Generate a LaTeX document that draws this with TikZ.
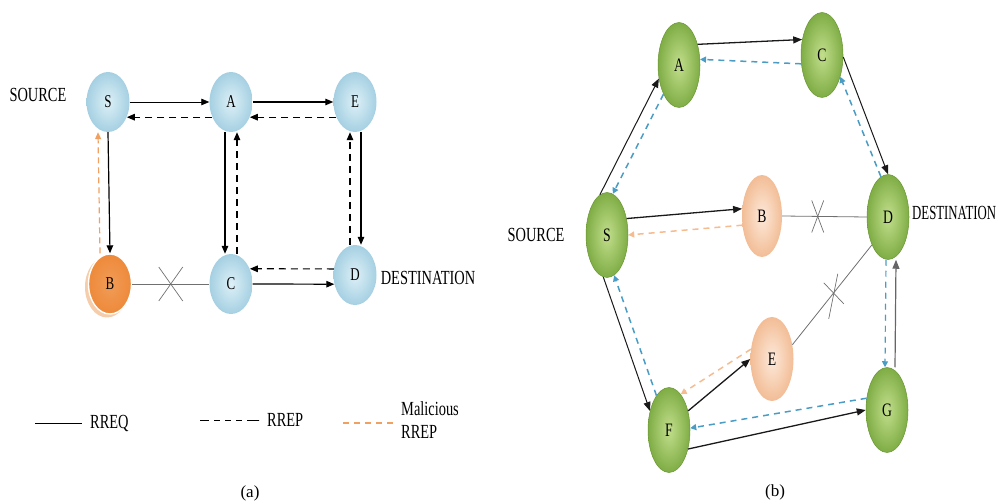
\documentclass[tikz,border=0pt]{standalone}
\usepackage{fontspec}
\setmainfont{Liberation Serif}
\newfontfamily\narrowserif[FakeStretch=0.72]{Liberation Serif}
\newfontfamily\tightserif[FakeStretch=0.64]{Liberation Serif}
\usetikzlibrary{shapes.geometric,arrows.meta,calc}

\definecolor{skyin}{HTML}{DDF0F7}
\definecolor{skyout}{HTML}{A5D0E2}
\definecolor{malorange}{HTML}{EE8A3A}
\definecolor{malshadow}{HTML}{F6CDAA}
\definecolor{leafin}{HTML}{C2DE8C}
\definecolor{leafout}{HTML}{7FAD45}
\definecolor{leafrim}{HTML}{6A9634}
\definecolor{peachin}{HTML}{FDE9DA}
\definecolor{peachout}{HTML}{F2BD96}
\definecolor{repblue}{HTML}{4A9CC4}
\definecolor{malline}{HTML}{F0A060}
\definecolor{mallight}{HTML}{F6BC90}
\definecolor{linkgray}{HTML}{707070}

\begin{document}
\begin{tikzpicture}[x=1pt,y=-1pt,
  lbl/.style={font=\narrowserif\fontsize{20}{22}\selectfont, inner sep=0pt},
  nodea/.style={ellipse, minimum width=43pt, minimum height=60pt, inner sep=0pt,
    shade, inner color=skyin, outer color=skyout,
    font=\narrowserif\fontsize{18}{18}\selectfont},
  nodeb/.style={ellipse, minimum width=42pt, minimum height=85pt, inner sep=0pt,
    shade, inner color=leafin, outer color=leafout, draw=leafrim, line width=0.5pt,
    font=\narrowserif\fontsize{19}{19}\selectfont},
  peach/.style={ellipse, minimum width=40pt, minimum height=82pt, inner sep=0pt,
    shade, inner color=peachin, outer color=peachout,
    font=\narrowserif\fontsize{19}{19}\selectfont},
  req/.style={draw=black, line width=1.2pt, -{Triangle[length=8pt,width=6.5pt]}},
  rep/.style={draw=black, line width=1.2pt, dash pattern=on 7pt off 5pt,
    -{Triangle[length=8pt,width=6.5pt]}},
  malrep/.style={draw=malline, line width=1.2pt, dash pattern=on 6pt off 4pt,
    -{Triangle[length=7pt,width=6pt]}},
  reqb/.style={draw=black!90, line width=1.3pt, -{Triangle[length=9pt,width=7pt]}},
  repb/.style={draw=repblue, line width=1.5pt, dash pattern=on 6pt off 5pt,
    -{Triangle[length=6pt,width=6pt]}},
  malb/.style={draw=mallight, line width=1.5pt, dash pattern=on 6pt off 5pt,
    -{Triangle[length=6pt,width=6pt]}},
  link/.style={draw=linkgray, line width=0.8pt},
  cross/.style={draw=linkgray, line width=0.7pt}
]
\useasboundingbox (0,0) rectangle (1003,502);

% ---------- (a) grid topology ----------
\node[ellipse, minimum width=44pt, minimum height=61pt, fill=malshadow] at (107,287) {};
\node[nodea] (S) at (108,102) {S};
\node[nodea] (A) at (231,102) {A};
\node[nodea] (E) at (355,102) {E};
\node[nodea, shade, inner color=malorange!85!white, outer color=malorange,
      draw=white, line width=1.4pt] (B) at (110,284) {B};
\node[nodea] (C) at (231,284) {C};
\node[nodea] (D) at (355,275) {D};

\node[lbl] (srca) at (38,95) {SOURCE};
\node[lbl] (dsta) at (428,278) {DESTINATION};

\draw[req, line width=0.8pt] (S.east) -- (A.west);
\draw[rep] (A.-141) -- (S.-39);
\draw[req] (A.east) -- (E.west);
\draw[rep] (E.-141) -- (A.-39);
\draw[req] ([xshift=-6pt]A.south) -- ([xshift=-6pt]C.north);
\draw[rep] ([xshift=6pt]C.north) -- ([xshift=6pt]A.south);
\draw[req] ([xshift=6pt]E.south) -- ([xshift=6pt]D.north);
\draw[rep] ([xshift=-5pt]D.north) -- ([xshift=-5pt]E.south);
\draw[req] (S.south) -- (B.north);
\draw[malrep] ([xshift=-10pt]B.north) -- ([xshift=-10pt]S.south);
\draw[req] (C.east) -- (D.-156);
\draw[rep] (D.164) -- (C.39);
\draw[link] (B.east) -- coordinate[pos=0.5] (xa) (C.west);
\draw[cross] ($(xa)+(-12,-17)$) -- ($(xa)+(12,17)$);
\draw[cross] ($(xa)+(12,-17)$) -- ($(xa)+(-12,17)$);

% legend
\coordinate (k1a) at (35,423);  \coordinate (k1b) at (82,423);
\coordinate (k2a) at (200,420); \coordinate (k2b) at (259,420);
\coordinate (k3a) at (343,423); \coordinate (k3b) at (397,423);
\draw[black, line width=1pt] (k1a) -- (k1b);
\draw[black, line width=1pt, dash pattern=on 9pt off 5pt on 6pt off 5pt on 6pt off 5pt on 6pt off 5pt on 12pt off 0pt] (k2a) -- (k2b);
\draw[malline, line width=1.3pt, dash pattern=on 6pt off 5pt] (k3a) -- (k3b);
\node[lbl, anchor=west] (t1) at (90,423) {RREQ};
\node[lbl, anchor=west] (t2) at (267,420) {RREP};
\node[lbl, anchor=west] (t3) at (401,409) {Malicious};
\node[lbl, anchor=west] (t4) at (401,432) {RREP};

\node[font=\fontsize{17}{17}\selectfont, inner sep=0pt] (capa) at (250,493) {(a)};

% ---------- (b) ring topology ----------
\node[nodeb] (A2) at (679,65) {A};
\node[nodeb] (C2) at (822,55) {C};
\node[nodeb] (S2) at (607,235) {S};
\node[peach] (B2) at (762,216) {B};
\node[nodeb] (D2) at (888,217) {D};
\node[peach, minimum width=43pt, minimum height=84pt] (E2) at (772,359) {E};
\node[nodeb] (F2) at (669,430) {F};
\node[nodeb] (G2) at (887,410) {G};

\node[lbl] (srcb) at (536,235) {SOURCE};
\node[lbl, font=\tightserif\fontsize{20}{22}\selectfont, anchor=west] (dstb) at (912,213) {DESTINATION};

\draw[reqb] (A2.48) -- (C2.142);
\draw[repb] (C2.-157) -- (A2.15);
\draw[reqb, line width=1pt] (S2.100) -- (A2.-146);
\draw[repb] (A2.-118) -- (S2.82);
\draw[reqb, line width=1pt] (C2.-5) -- (D2.north);
\draw[repb] (D2.100) -- (C2.-50);
\draw[reqb] (S2.40) -- (B2.160);
\draw[malb] (B2.-155) -- (S2.east);
\draw[link] (B2.east) -- coordinate[pos=0.42] (xb) (D2.west);
\draw[cross] ($(xb)+(-6,-16)$) -- ($(xb)+(6,16)$);
\draw[cross] ($(xb)+(6,-16)$) -- ($(xb)+(-6,16)$);
\draw[reqb, line width=1pt] (S2.-95) -- (F2.135);
\draw[repb] (F2.110) -- (S2.-80);
\draw[reqb] (F2.45) -- (E2.west);
\draw[malb] (E2.155) -- (F2.72);
\draw[link] (E2.35) -- coordinate[pos=0.52] (xe) (D2.-120);
\draw[cross] ($(xe)+(-10,-10)$) -- ($(xe)+(10,11)$);
\draw[cross] ($(xe)+(4,-19)$) -- ($(xe)+(-5,26)$);
\draw[reqb] (F2.-45) -- (G2.west);
\draw[repb] (G2.150) -- (F2.5);
\draw[reqb, draw=black!60, line width=1.2pt] ([xshift=8pt]G2.north) -- ([xshift=8pt]D2.south);
\draw[repb, line width=1.2pt] ([xshift=-2pt]D2.south) -- ([xshift=-2pt]G2.north);

\node[font=\fontsize{17}{17}\selectfont, inner sep=0pt] (capb) at (775,492) {(b)};
\end{tikzpicture}
\end{document}
